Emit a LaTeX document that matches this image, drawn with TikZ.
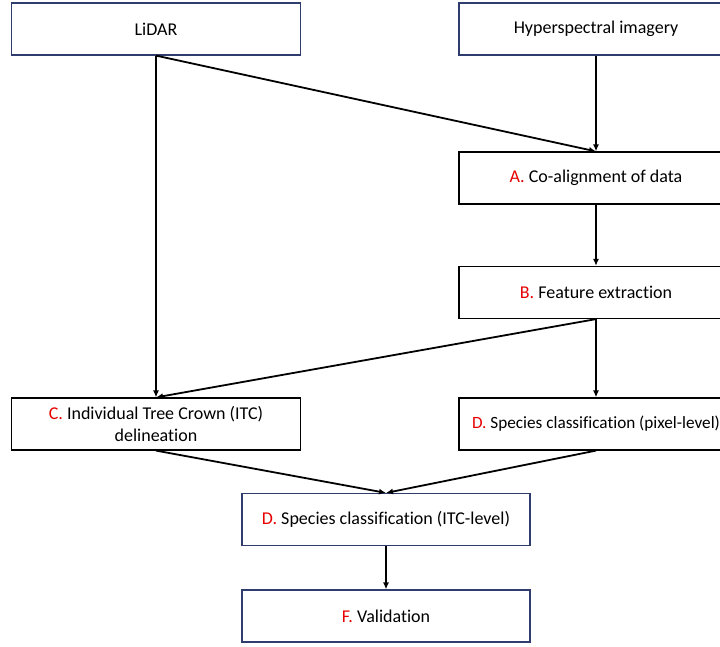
\documentclass[tikz,border=0pt]{standalone}
\usepackage{fontspec}
\setmainfont{Carlito}[Ligatures={NoCommon}]
\usetikzlibrary{arrows.meta}
\definecolor{boxnavy}{RGB}{47,60,110}
\definecolor{stepred}{RGB}{230,0,0}
\tikzset{
  procbox/.style={draw=black,line width=1.2pt,fill=white,minimum height=52pt,inner sep=0pt,align=center,font=\fontsize{18}{22}\selectfont},
  srcbox/.style={procbox,draw=boxnavy},
  flow/.style={-{Latex[length=7pt,width=6pt]},line width=1.8pt}
}
\newcommand{\stp}[1]{\textcolor{stepred}{#1}}

\begin{document}
\begin{tikzpicture}[x=1pt,y=-1pt]
\useasboundingbox (0,0) rectangle (720,647);
\node[srcbox,minimum width=289pt] (lidar) at (156,29) {LiDAR};
\node[srcbox,minimum width=274pt] (hyper) at (596,29) {Hyperspectral imagery};
\node[procbox,minimum width=274pt] (coal) at (596,178) {\stp{A.} Co-alignment of data};
\node[procbox,minimum width=274pt] (feat) at (596,292.5) {\stp{B.} Feature extraction};
\node[procbox,minimum width=289pt] (itc) at (156,424) {\stp{C.} Individual Tree Crown (ITC)\\delineation};
\node[procbox,minimum width=274pt,font=\fontsize{17.2}{21}\selectfont] (pix) at (596,424) {\stp{D.} Species classification (pixel-level)};
\node[srcbox,minimum width=288pt] (itccls) at (386,519.5) {\stp{D.} Species classification (ITC-level)};
\node[srcbox,minimum width=288pt] (valid) at (386,616) {\stp{F.} Validation};
\draw[flow] (lidar.south) -- (itc.north);
\draw[flow] (lidar.south) -- (coal.north);
\draw[flow] (hyper.south) -- (coal.north);
\draw[flow] (coal.south) -- (feat.north);
\draw[flow] (feat.south) -- (itc.north);
\draw[flow] (feat.south) -- (pix.north);
\draw[flow] (itc.south) -- (itccls.north);
\draw[flow] (pix.south) -- (itccls.north);
\draw[flow] (itccls.south) -- (valid.north);
\end{tikzpicture}
\end{document}
